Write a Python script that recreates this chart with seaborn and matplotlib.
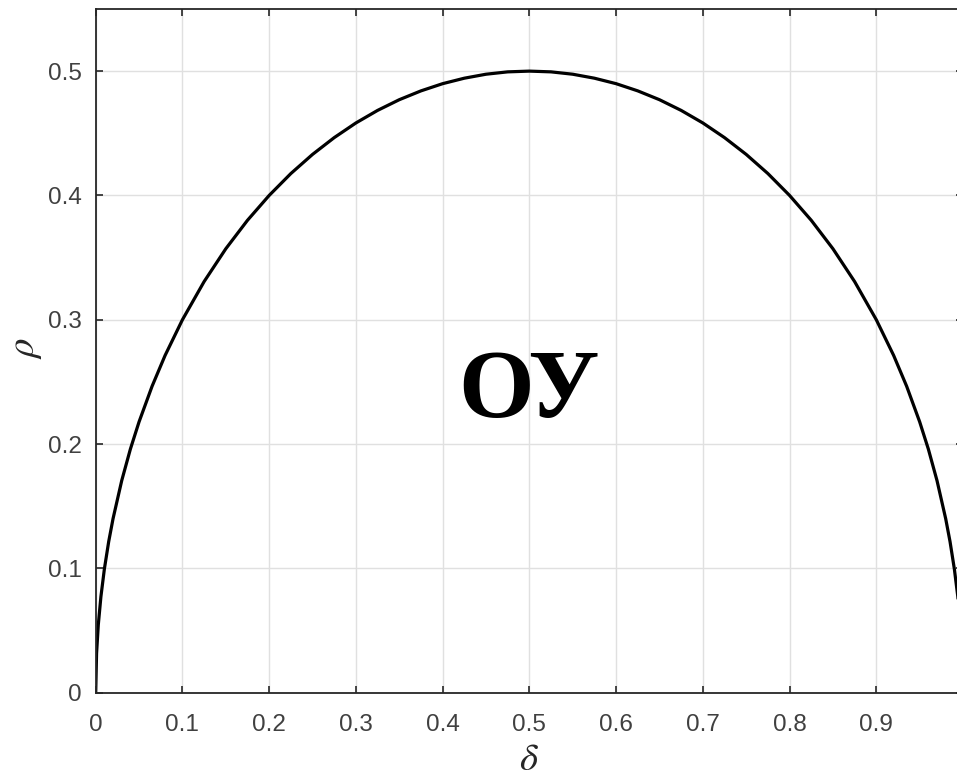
import matplotlib
matplotlib.use("Agg")
import matplotlib.pyplot as plt
import seaborn as sns
import pandas as pd

# Boundary curve rho(delta)
delta = [0, 0.001, 0.003, 0.006, 0.01, 0.015, 0.02, 0.03, 0.04, 0.05, 0.065, 0.08,
         0.1, 0.125, 0.15, 0.175, 0.2, 0.225, 0.25, 0.275, 0.3, 0.325, 0.35, 0.375,
         0.4, 0.425, 0.45, 0.475, 0.5, 0.525, 0.55, 0.575, 0.6, 0.625, 0.65, 0.675,
         0.7, 0.725, 0.75, 0.775, 0.8, 0.825, 0.85, 0.875, 0.9, 0.92, 0.935, 0.95,
         0.96, 0.97, 0.98, 0.985, 0.99, 0.994, 0.997, 0.999, 1.0]
rho = [0, 0.0316, 0.0547, 0.0772, 0.0995, 0.1216, 0.14, 0.1706, 0.196, 0.2179, 0.2465, 0.2713,
       0.3, 0.3307, 0.3571, 0.38, 0.4, 0.4176, 0.433, 0.4465, 0.4583, 0.4684, 0.477, 0.4841,
       0.4899, 0.4943, 0.4975, 0.4994, 0.5, 0.4994, 0.4975, 0.4943, 0.4899, 0.4841, 0.477, 0.4684,
       0.4583, 0.4465, 0.433, 0.4176, 0.4, 0.38, 0.3571, 0.3307, 0.3, 0.2713, 0.2465, 0.2179,
       0.196, 0.1706, 0.14, 0.1216, 0.0995, 0.0772, 0.0547, 0.0316, 0]

x_ticks = [0, 0.1, 0.2, 0.3, 0.4, 0.5, 0.6, 0.7, 0.8, 0.9]
x_tick_labels = ["0", "0.1", "0.2", "0.3", "0.4", "0.5", "0.6", "0.7", "0.8", "0.9"]
y_ticks = [0, 0.1, 0.2, 0.3, 0.4, 0.5]
y_tick_labels = ["0", "0.1", "0.2", "0.3", "0.4", "0.5"]
region_label = "ОУ"
region_pos = (0.5, 0.2215)

sns.set_theme(style="white")
plt.rcParams["font.family"] = ["Liberation Sans", "DejaVu Sans"]
plt.rcParams["mathtext.fontset"] = "stix"

fig = plt.figure(figsize=(9.57, 7.79), dpi=100)
ax = fig.add_axes([0.1, 0.1108, 0.9063, 0.8777])

df = pd.DataFrame({"delta": delta, "rho": rho})
sns.lineplot(data=df, x="delta", y="rho", ax=ax, color="black", linewidth=2.3,
             estimator=None, sort=False)

ax.set_xlim(0, 1)
ax.set_ylim(0, 0.55)
ax.set_xticks(x_ticks)
ax.set_xticklabels(x_tick_labels)
ax.set_yticks(y_ticks)
ax.set_yticklabels(y_tick_labels)

ax.grid(True, color="#e0e0e0", linewidth=1.0)
ax.set_axisbelow(True)
for s in ax.spines.values():
    s.set_color("#262626")
    s.set_linewidth(1.3)
    s.set_visible(True)

ax.tick_params(direction="in", length=5, width=1.2, color="#262626",
               labelcolor="#404040", labelsize=17.5, top=True, right=True,
               bottom=True, left=True)
ax.tick_params(axis="x", pad=15)
ax.tick_params(axis="y", pad=10)

ax.set_xlabel(r"$\delta$", fontsize=28, color="#262626", va="center")
ax.xaxis.set_label_coords(0.5, -0.098)
ax.set_ylabel(r"$\rho$", fontsize=28, color="#262626", va="center")
ax.yaxis.set_label_coords(-0.0804, 0.504)

ax.text(region_pos[0], region_pos[1], region_label, ha="center", va="baseline",
        fontsize=70, fontweight="bold", family=["Liberation Serif", "DejaVu Serif"],
        color="black")

fig.savefig("out.png", dpi=100)
